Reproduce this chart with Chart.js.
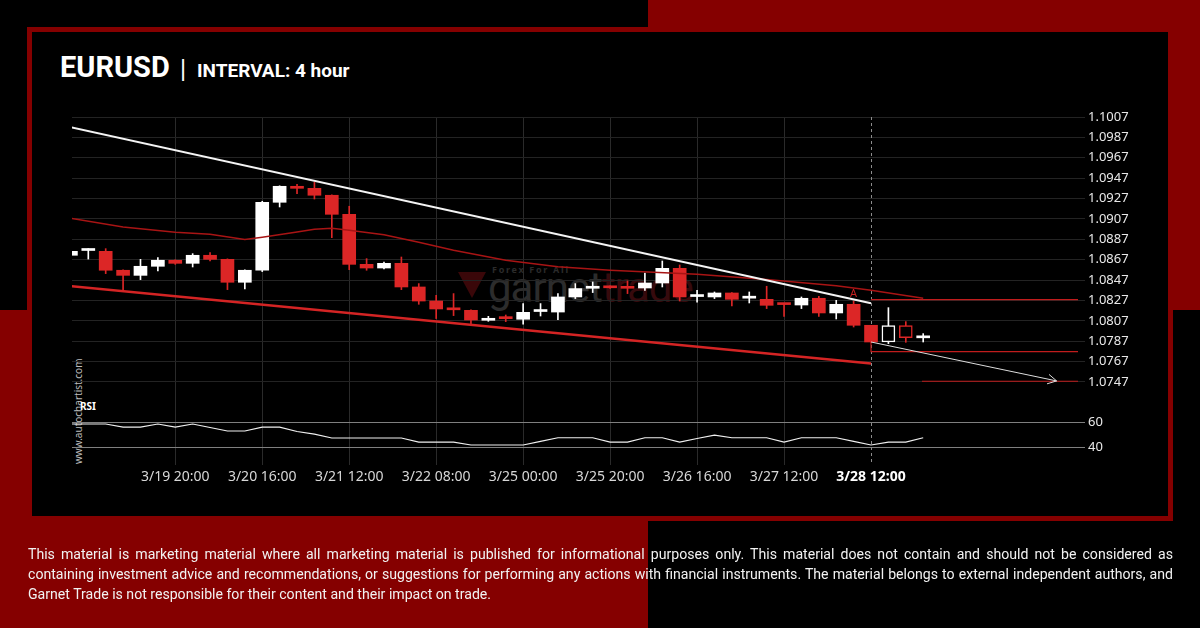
<!DOCTYPE html>
<html>
<head>
<meta charset="utf-8">
<title>EURUSD | INTERVAL: 4 hour</title>
<script src="https://cdn.jsdelivr.net/npm/chart.js@4.4.1/dist/chart.umd.min.js"></script>
<style>
  html, body { margin: 0; padding: 0; }
  body { width: 1200px; height: 628px; background: #000; position: relative; overflow: hidden; font-family: Roboto, sans-serif; }
  .bg-red { position: absolute; background: #850000; }
  #frame { position: absolute; left: 27px; top: 27px; width: 1146px; height: 494px; box-sizing: border-box; border: 5px solid #850000; background: #000; }
  .title { position: absolute; color: #fff; white-space: nowrap; font-family: Roboto, sans-serif; }
  #sym { left: 60px; top: 53px; font-size: 29px; line-height: 29px; font-weight: 700; }
  #pipe { left: 180px; top: 57px; font-size: 25px; line-height: 25px; font-weight: 400; }
  #interval { left: 197px; top: 61px; font-size: 19px; line-height: 19px; font-weight: 700; }
  #watermark { position: absolute; left: 456px; top: 262px; width: 230px; height: 50px; }
  #wm-tri { position: absolute; left: 2px; top: 10px; width: 0; height: 0; border-left: 14px solid transparent; border-right: 14px solid transparent; border-top: 26px solid #3a0709; }
  #wm-small { position: absolute; left: 36px; top: 1px; font: 700 9px "Noto Sans", sans-serif; letter-spacing: 1.7px; color: #2b2b2b; white-space: nowrap; }
  #wm-big { position: absolute; left: 32px; top: 5px; font: 400 42px Roboto, sans-serif; line-height: 42px; color: #2c2c2c; white-space: nowrap; letter-spacing: -1px; }
  #wm-big span { color: #360a0d; }
  #site { position: absolute; left: 72px; top: 361px; height: 103px; width: 13px; writing-mode: vertical-rl; transform: rotate(180deg); font: 10px "Noto Sans", sans-serif; color: #bdbdbd; white-space: nowrap; line-height: 13px; }
  #rsi-label { position: absolute; left: 80px; top: 399px; font: 700 10px "Noto Sans", sans-serif; color: #fff; }
  canvas { position: absolute; left: 0; top: 0; }
  .disc { position: absolute; left: 28px; width: 1218px; transform: scaleX(0.94); transform-origin: left top; font: 15px Roboto, sans-serif; line-height: 20px; color: #f2f2f2; white-space: nowrap; }
  .disc.full { text-align: justify; text-align-last: justify; }
</style>
</head>
<body>
<div class="bg-red" style="left:648px; top:0; width:552px; height:310px;"></div>
<div class="bg-red" style="left:0; top:310px; width:648px; height:318px;"></div>
<div id="frame"></div>

<div class="title" id="sym">EURUSD</div>
<div class="title" id="pipe">|</div>
<div class="title" id="interval">INTERVAL: 4 hour</div>

<div id="watermark">
  <div id="wm-tri"></div>
  <div id="wm-small">Forex For All</div>
  <div id="wm-big">garnet<span>trade</span></div>
</div>
<div id="site">www.autochartist.com</div>
<div id="rsi-label">RSI</div>

<canvas id="chart" width="1200" height="628"></canvas>

<div class="disc full" style="top:544px;">This material is marketing material where all marketing material is published for informational purposes only. This material does not contain and should not be considered as</div>
<div class="disc full" style="top:564px;">containing investment advice and recommendations, or suggestions for performing any actions with financial instruments. The material belongs to external independent authors, and</div>
<div class="disc" style="top:584px;">Garnet Trade is not responsible for their content and their impact on trade.</div>

<script>
// x axis labels (candle index -> time)
const labelIdx = [6, 11, 16, 21, 26, 31, 36, 41, 46];
const timeLabels = ['3/19 20:00', '3/20 16:00', '3/21 12:00', '3/22 08:00', '3/25 00:00', '3/25 20:00', '3/26 16:00', '3/27 12:00', '3/28 12:00'];
const signalIdx = 46;

// 4h candles
const opens = [
  1.08713, 1.08760, 1.08752, 1.08566, 1.08516, 1.08605, 1.08664, 1.08634, 1.08713, 1.08673,
  1.08448, 1.08566, 1.09233, 1.09390, 1.09370, 1.09302, 1.09115, 1.08624, 1.08588, 1.08634,
  1.08402, 1.08264, 1.08183, 1.08173, 1.08075, 1.08097, 1.08085, 1.08161, 1.08156, 1.08304,
  1.08389, 1.08409, 1.08396, 1.08392, 1.08441, 1.08585, 1.08308, 1.08304, 1.08343, 1.08292,
  1.08281, 1.08234, 1.08225, 1.08291, 1.08147, 1.08232, 1.08026, 1.07862, 1.08023, 1.07903];
const closes = [
  1.08752, 1.08764, 1.08566, 1.08516, 1.08605, 1.08664, 1.08634, 1.08713, 1.08673, 1.08448,
  1.08566, 1.09233, 1.09390, 1.09370, 1.09302, 1.09115, 1.08624, 1.08588, 1.08634, 1.08402,
  1.08264, 1.08186, 1.08178, 1.08078, 1.08094, 1.08091, 1.08153, 1.08165, 1.08304, 1.08386,
  1.08409, 1.08394, 1.08389, 1.08441, 1.08585, 1.08304, 1.08312, 1.08343, 1.08281, 1.08296,
  1.08222, 1.08229, 1.08291, 1.08147, 1.08232, 1.08026, 1.07862, 1.08023, 1.07905, 1.07907];
const highs = [
  1.08762, 1.08778, 1.08778, 1.08570, 1.08673, 1.08690, 1.08669, 1.08729, 1.08739, 1.08678,
  1.08570, 1.09243, 1.09395, 1.09410, 1.09429, 1.09306, 1.09194, 1.08680, 1.08647, 1.08696,
  1.08435, 1.08320, 1.08337, 1.08178, 1.08114, 1.08127, 1.08239, 1.08239, 1.08337, 1.08435,
  1.08451, 1.08412, 1.08461, 1.08539, 1.08657, 1.08618, 1.08369, 1.08353, 1.08347, 1.08353,
  1.08409, 1.08237, 1.08304, 1.08310, 1.08271, 1.08264, 1.08026, 1.08199, 1.08062, 1.07944];
const lows = [
  1.08703, 1.08676, 1.08533, 1.08359, 1.08474, 1.08559, 1.08624, 1.08598, 1.08657, 1.08376,
  1.08382, 1.08553, 1.09187, 1.09318, 1.09265, 1.08886, 1.08572, 1.08566, 1.08578, 1.08376,
  1.08232, 1.08092, 1.08121, 1.08036, 1.08065, 1.08062, 1.08036, 1.08117, 1.08082, 1.08288,
  1.08347, 1.08389, 1.08337, 1.08369, 1.08402, 1.08264, 1.08254, 1.08288, 1.08215, 1.08245,
  1.08190, 1.08114, 1.08190, 1.08114, 1.08088, 1.08009, 1.07859, 1.07846, 1.07859, 1.07862];
const hollowIdx = [47, 48];

const rsiVals = [
  58.7, 58.7, 58.7, 56.2, 56.2, 58.7, 56.2, 58.7, 55.8, 53.0,
  53.0, 56.2, 56.2, 52.6, 50.5, 47.3, 47.3, 47.3, 47.3, 47.3,
  44.0, 44.0, 44.0, 41.6, 41.6, 41.6, 41.6, 44.6, 47.6, 47.6,
  47.6, 44.0, 44.0, 47.6, 47.6, 44.0, 46.9, 49.7, 47.6, 47.6,
  47.6, 44.0, 47.6, 47.6, 47.6, 44.6, 41.6, 44.0, 44.0, 47.6];

const priceTicks = [1.1007, 1.0987, 1.0967, 1.0947, 1.0927, 1.0907, 1.0887, 1.0867, 1.0847, 1.0827, 1.0807, 1.0787, 1.0767, 1.0747];
const rsiTicks = [40, 60];

// moving average (thin dark red)
const maIdx = [0, 3, 6, 8, 10, 11, 13, 14, 15, 16, 18, 20, 22, 25, 28, 31, 36, 40, 44, 46, 49];
const maVals = [1.09076, 1.08991, 1.08939, 1.08919, 1.08867, 1.08890, 1.08942, 1.08968, 1.08978, 1.08958,
  1.08914, 1.08841, 1.08762, 1.08664, 1.08600, 1.08566, 1.08527, 1.08475, 1.08414, 1.08370, 1.08291];

// pattern lines
const resistIdx = [0, 46];
const resistVals = [1.09969, 1.08242];
const supportIdx = [0, 46];
const supportVals = [1.08409, 1.07650];

// levels and forecast
const level1Idx = [46, 57.9];
const level1Vals = [1.08278, 1.08278];
const level2Idx = [46, 46, 57.9];
const level2Vals = [1.07862, 1.07768, 1.07768];
const level3Idx = [48.93, 57.9];
const level3Vals = [1.07477, 1.07477];
const projIdx = [46, 56.67];
const projVals = [1.07862, 1.07480];
const markIdx = 45;
const markPrice = 1.0830;

const RED = '#dc2626';
const WHITE = '#ffffff';

const pts = (xs, ys) => xs.map((v, i) => ({ x: v, y: ys[i] }));
const candleColor = i => closes[i] >= opens[i] ? WHITE : RED;

const overlay = {
    id: 'overlay',
    beforeDatasetsDraw(chart) {
        const { ctx, chartArea, scales: { x } } = chart;
        const sx = Math.round(x.getPixelForValue(signalIdx)) + 0.5;
        ctx.save();
        ctx.strokeStyle = '#8c8c8c';
        ctx.lineWidth = 1;
        ctx.setLineDash([3, 3]);
        ctx.beginPath();
        ctx.moveTo(sx, chartArea.top);
        ctx.lineTo(sx, chartArea.bottom);
        ctx.stroke();
        ctx.restore();
    },
    afterDatasetsDraw(chart) {
        const { ctx, scales: { x, y } } = chart;
        const n = projIdx.length - 1;
        const x1 = x.getPixelForValue(projIdx[n - 1]), y1 = y.getPixelForValue(projVals[n - 1]);
        const x2 = x.getPixelForValue(projIdx[n]), y2 = y.getPixelForValue(projVals[n]);
        const ang = Math.atan2(y2 - y1, x2 - x1);
        ctx.save();
        ctx.strokeStyle = '#dddddd';
        ctx.lineWidth = 1;
        ctx.beginPath();
        ctx.moveTo(x2 - 10 * Math.cos(ang - 0.5), y2 - 10 * Math.sin(ang - 0.5));
        ctx.lineTo(x2, y2);
        ctx.lineTo(x2 - 10 * Math.cos(ang + 0.5), y2 - 10 * Math.sin(ang + 0.5));
        ctx.stroke();
        // pattern marker
        ctx.fillStyle = '#c42020';
        ctx.font = '11px "Noto Sans"';
        ctx.textAlign = 'center';
        ctx.textBaseline = 'alphabetic';
        ctx.fillText('A', x.getPixelForValue(markIdx), y.getPixelForValue(markPrice));
        ctx.restore();
    }
};

const idx = opens.map((_, i) => i);
const lineDs = (label, xs, ys, color, width, order, axis) => ({
    type: 'line', label, data: pts(xs, ys), borderColor: color, borderWidth: width,
    pointRadius: 0, tension: 0, fill: false, order, yAxisID: axis || 'y'
});

new Chart(document.getElementById('chart'), {
    type: 'bar',
    data: {
        datasets: [
            {
                label: 'wicks', data: idx.map(i => ({ x: i, y: [lows[i], highs[i]] })),
                backgroundColor: idx.map(candleColor), barThickness: 1, grouped: false, order: 6, yAxisID: 'y'
            },
            {
                label: 'bodies', data: idx.map(i => ({ x: i, y: [opens[i], closes[i]] })),
                backgroundColor: idx.map(i => hollowIdx.includes(i) ? '#000' : candleColor(i)),
                borderColor: idx.map(candleColor),
                borderWidth: idx.map(i => hollowIdx.includes(i) ? 1.5 : 0),
                borderSkipped: false, barThickness: 13, minBarLength: 2, grouped: false, order: 5, yAxisID: 'y'
            },
            lineDs('MA', maIdx, maVals, '#a81414', 1.5, 4),
            lineDs('support', supportIdx, supportVals, '#d42424', 2.5, 3),
            lineDs('resistance', resistIdx, resistVals, '#f4f4f4', 2, 3),
            lineDs('level1', level1Idx, level1Vals, '#c01c1c', 1.2, 2),
            lineDs('level2', level2Idx, level2Vals, '#c01c1c', 1.2, 2),
            lineDs('level3', level3Idx, level3Vals, '#c01c1c', 1.2, 2),
            lineDs('projection', projIdx, projVals, '#dddddd', 1, 1),
            lineDs('RSI', idx, rsiVals, '#f0f0f0', 1.1, 1, 'rsi')
        ]
    },
    options: {
        responsive: false,
        animation: false,
        devicePixelRatio: 1,
        layout: { padding: { left: 72, top: 117, right: 28, bottom: 133 } },
        plugins: { legend: { display: false }, tooltip: { enabled: false } },
        scales: {
            x: {
                type: 'linear', position: 'bottom', min: 0.063, max: 57.9, offset: false,
                afterBuildTicks: s => { s.ticks = labelIdx.map(v => ({ value: v })); },
                afterFit: s => { s.height = 30; },
                ticks: {
                    autoSkip: false, maxRotation: 0, padding: 4,
                    callback: v => timeLabels[labelIdx.indexOf(v)],
                    color: c => c.tick && c.tick.value === signalIdx ? '#ffffff' : '#d8d8d8',
                    font: c => c.tick && c.tick.value === signalIdx
                        ? { family: 'Noto Sans', size: 14, weight: 'bold' }
                        : { family: 'Noto Sans', size: 14 }
                },
                grid: {
                    offset: false, drawTicks: false,
                    color: c => c.tick && c.tick.value === signalIdx ? 'rgba(0,0,0,0)' : '#2a2a2a'
                },
                border: { display: false }
            },
            y: {
                type: 'linear', position: 'right', stack: 'panes', stackWeight: 284,
                min: 1.07283, max: 1.1007, beginAtZero: false,
                afterBuildTicks: s => { s.ticks = priceTicks.map(v => ({ value: v })); },
                afterFit: s => { s.width = 94; },
                ticks: { autoSkip: false, padding: 3, color: '#e8e8e8', font: { family: 'Noto Sans', size: 13 }, callback: v => v.toFixed(4) },
                grid: { color: '#232323', tickLength: 7 },
                border: { display: false }
            },
            rsi: {
                type: 'linear', position: 'right', stack: 'panes', stackWeight: 64,
                min: 25.4, max: 77.4, beginAtZero: false,
                afterBuildTicks: s => { s.ticks = rsiTicks.map(v => ({ value: v })); },
                afterFit: s => { s.width = 94; },
                ticks: { autoSkip: false, padding: 3, color: '#e8e8e8', font: { family: 'Noto Sans', size: 13 } },
                grid: { color: '#7f7f7f', tickLength: 7 },
                border: { display: false }
            }
        }
    },
    plugins: [overlay]
});
</script>
</body>
</html>
